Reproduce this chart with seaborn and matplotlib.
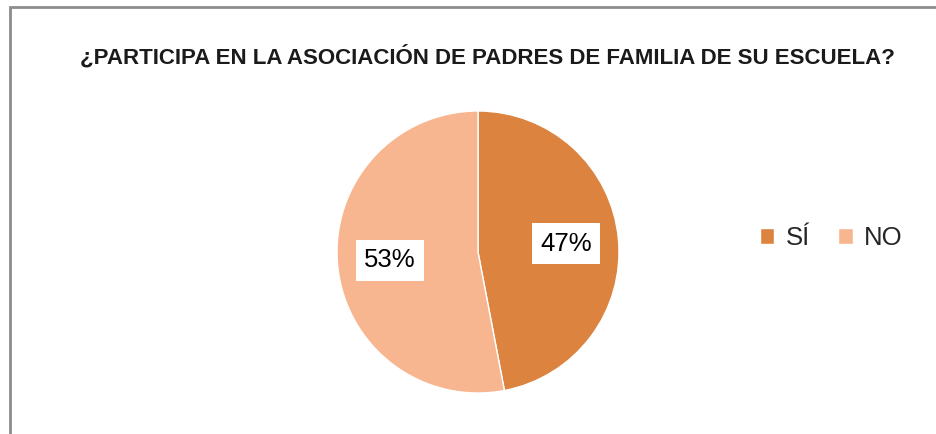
import matplotlib
matplotlib.use("Agg")
import matplotlib.pyplot as plt
import seaborn as sns
from matplotlib.patches import Rectangle

# data
categories = ["SÍ", "NO"]
shares = [47, 53]
colors = ["#DC843F", "#F8B690"]
title = "¿PARTICIPA EN LA ASOCIACIÓN DE PADRES DE FAMILIA DE SU ESCUELA?"

sns.set_style("white")
plt.rcParams['font.family'] = ['Liberation Sans Narrow', 'Liberation Sans', 'DejaVu Sans']

fig = plt.figure(figsize=(9.36, 4.34), dpi=100)

# chart frame (cut off on the right and bottom like the original)
fig.patches.append(Rectangle((10 / 936, -0.05), 1.2, (434 - 7) / 434 + 0.05,
                             transform=fig.transFigure, fill=False,
                             edgecolor="#8c8c8c", linewidth=2))

fig.text(487 / 936, 1 - 57 / 434, title, ha="center", va="center",
         fontsize=16, fontweight="bold", color="#1a1a1a")

ax = fig.add_axes([337 / 936, 41 / 434, 282 / 936, 282 / 434])
wedges, _, autotexts = ax.pie(
    shares, colors=colors, startangle=90, counterclock=False,
    autopct=lambda p: f"{p:.0f}%", pctdistance=0.63,
    wedgeprops=dict(edgecolor="white", linewidth=1),
    textprops=dict(fontsize=18.5, color="black"))
for t in autotexts:
    t.set_family(['Liberation Sans', 'DejaVu Sans'])
    t.set_bbox(dict(facecolor="white", edgecolor="none", pad=6))
ax.set_xlim(-1, 1)
ax.set_ylim(-1, 1)
ax.set_aspect("equal")

fig.legend(wedges, categories, loc="center left", bbox_to_anchor=(737 / 936, 1 - 238 / 434),
           ncol=2, frameon=False, handlelength=0.55, handleheight=0.55,
           handletextpad=0.45, columnspacing=1.1,
           prop=dict(family=['Liberation Sans', 'DejaVu Sans'], size=18.5))

fig.savefig("out.png", dpi=100)
